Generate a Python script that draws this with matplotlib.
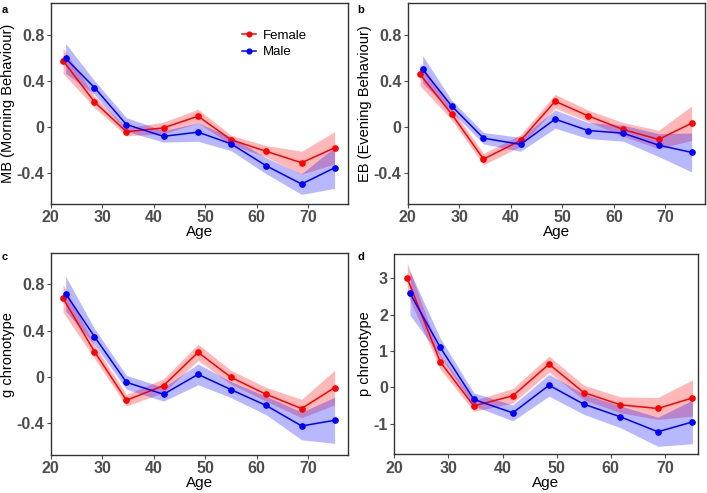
import numpy as np
import matplotlib
matplotlib.use("Agg")
import matplotlib.pyplot as plt

plt.rcParams['font.family'] = ['Liberation Sans', 'DejaVu Sans']

# age bins (bin means) for each sex
age_f = [22.4, 28.5, 34.7, 41.9, 48.6, 55.0, 61.8, 68.7, 75.1]
age_m = [22.9, 28.5, 34.7, 41.9, 48.6, 55.0, 61.8, 68.7, 75.1]

# a: MB (Morning Behaviour)
mb_f = [0.58, 0.22, -0.04, -0.006, 0.096, -0.11, -0.21, -0.31, -0.18]
mb_f_ci = [0.11, 0.05, 0.035, 0.05, 0.06, 0.04, 0.05, 0.10, 0.14]
mb_m = [0.60, 0.345, 0.023, -0.08, -0.043, -0.145, -0.336, -0.496, -0.354]
mb_m_ci = [0.13, 0.06, 0.06, 0.05, 0.08, 0.06, 0.07, 0.09, 0.18]

# b: EB (Evening Behaviour)
eb_f = [0.46, 0.116, -0.278, -0.116, 0.226, 0.099, -0.02, -0.107, 0.035]
eb_f_ci = [0.10, 0.05, 0.05, 0.05, 0.06, 0.05, 0.06, 0.08, 0.15]
eb_m = [0.504, 0.186, -0.096, -0.15, 0.07, -0.029, -0.052, -0.157, -0.22]
eb_m_ci = [0.12, 0.05, 0.05, 0.06, 0.08, 0.07, 0.07, 0.10, 0.17]

# c: g chronotype
g_f = [0.68, 0.217, -0.205, -0.078, 0.211, -0.006, -0.153, -0.277, -0.095]
g_f_ci = [0.12, 0.06, 0.05, 0.06, 0.07, 0.06, 0.06, 0.08, 0.15]
g_m = [0.72, 0.347, -0.049, -0.153, 0.02, -0.113, -0.25, -0.428, -0.379]
g_m_ci = [0.15, 0.07, 0.06, 0.06, 0.09, 0.07, 0.08, 0.12, 0.20]

# d: p chronotype
p_f = [3.0, 0.70, -0.51, -0.23, 0.64, -0.14, -0.48, -0.58, -0.29]
p_f_ci = [0.42, 0.20, 0.15, 0.20, 0.22, 0.20, 0.22, 0.30, 0.50]
p_m = [2.59, 1.10, -0.33, -0.70, 0.06, -0.46, -0.81, -1.22, -0.95]
p_m_ci = [0.60, 0.25, 0.18, 0.22, 0.30, 0.28, 0.30, 0.40, 0.60]

panels = [
    ("a", "MB (Morning Behaviour)", mb_f, mb_f_ci, mb_m, mb_m_ci,
     [0.0717, 0.5862, 0.4205, 0.407], (20, 77.7), (-0.67, 1.08), [-0.4, 0, 0.4, 0.8], (0.003, 0.99)),
    ("b", "EB (Evening Behaviour)", eb_f, eb_f_ci, eb_m, eb_m_ci,
     [0.5767, 0.5862, 0.4205, 0.407], (20, 77.7), (-0.67, 1.08), [-0.4, 0, 0.4, 0.8], (0.506, 0.99)),
    ("c", "g chronotype", g_f, g_f_ci, g_m, g_m_ci,
     [0.0717, 0.0771, 0.4205, 0.409], (20, 77.7), (-0.68, 1.07), [-0.4, 0, 0.4, 0.8], (0.003, 0.488)),
    ("d", "p chronotype", p_f, p_f_ci, p_m, p_m_ci,
     [0.5577, 0.0785, 0.429, 0.407], (20, 76.05), (-1.84, 3.68), [-1, 0, 1, 2, 3], (0.506, 0.488)),
]

fig = plt.figure(figsize=(7.07, 4.93), dpi=100)

for letter, ylab, yf, cf, ym, cm, pos, xl, yl, yt, lpos in panels:
    ax = fig.add_axes(pos)
    yf, cf, ym, cm = map(np.array, (yf, cf, ym, cm))
    ax.fill_between(age_f, yf - cf, yf + cf, color="#ff0000", alpha=0.28, lw=0)
    ax.fill_between(age_m, ym - cm, ym + cm, color="#0000ff", alpha=0.28, lw=0)
    ax.plot(age_f, yf, "-o", color="#ff0000", lw=1.1, ms=3.8, label="Female")
    ax.plot(age_m, ym, "-o", color="#0000ff", lw=1.1, ms=3.8, label="Male")
    ax.set_xlim(*xl)
    ax.set_ylim(*yl)
    ax.set_xticks([20, 30, 40, 50, 60, 70])
    ax.set_yticks(yt)
    ax.set_yticklabels(["0" if v == 0 else f"{v:g}" for v in yt])
    ax.tick_params(colors="#4d4d4d", labelsize=11.5, length=3, width=0.8, pad=1.5)
    for lab in ax.get_xticklabels() + ax.get_yticklabels():
        lab.set_fontweight("bold")
        lab.set_color("#4d4d4d")
    for s in ax.spines.values():
        s.set_color("#333333")
        s.set_linewidth(1.0)
    ax.set_xlabel("Age", fontsize=11, labelpad=0)
    ax.set_ylabel(ylab, fontsize=10.5, labelpad=1.5)
    fig.text(lpos[0], lpos[1], letter, fontsize=8, fontweight="bold", va="top", ha="left")
    if letter == "a":
        ax.legend(loc="upper left", bbox_to_anchor=(0.625, 0.895), frameon=False,
                  fontsize=9.5, handlelength=1.1, handletextpad=0.5,
                  labelspacing=0.3, borderaxespad=0, markerscale=0.9)

fig.savefig("out.png", dpi=100)
